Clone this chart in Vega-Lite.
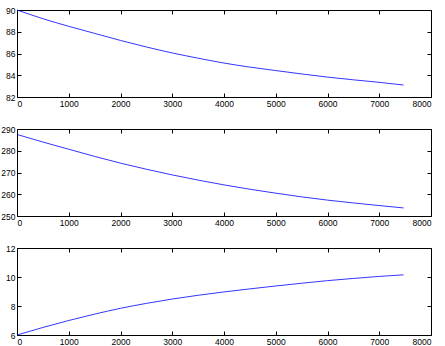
{
  "$schema": "https://vega.github.io/schema/vega-lite/v6.json",
  "padding": {"left": 0, "top": 5, "right": 0, "bottom": 0},
  "background": "white",
  "spacing": 16,
  "config": {
    "view": {"stroke": "black", "strokeWidth": 1},
    "axis": {"grid": false, "domain": false, "tickColor": "black", "tickSize": -4, "labelColor": "black", "labelFont": "Liberation Sans", "labelFontSize": 8.5, "title": null, "labelPadding": 6, "format": "d"}
  },
  "datasets": {
    "p1": [
      {"t": 0, "v": 90}, {"t": 500, "v": 89.2}, {"t": 1000, "v": 88.5}, {"t": 1500, "v": 87.85},
      {"t": 2000, "v": 87.2}, {"t": 2500, "v": 86.6}, {"t": 3000, "v": 86.05}, {"t": 3500, "v": 85.57},
      {"t": 4000, "v": 85.12}, {"t": 4500, "v": 84.75}, {"t": 5000, "v": 84.43}, {"t": 5500, "v": 84.12},
      {"t": 6000, "v": 83.83}, {"t": 6500, "v": 83.58}, {"t": 7000, "v": 83.35}, {"t": 7470, "v": 83.1}
    ],
    "p2": [
      {"t": 0, "v": 287.5}, {"t": 500, "v": 284.0}, {"t": 1000, "v": 280.7}, {"t": 1500, "v": 277.4},
      {"t": 2000, "v": 274.3}, {"t": 2500, "v": 271.5}, {"t": 3000, "v": 268.9}, {"t": 3500, "v": 266.5},
      {"t": 4000, "v": 264.3}, {"t": 4500, "v": 262.3}, {"t": 5000, "v": 260.5}, {"t": 5500, "v": 258.8},
      {"t": 6000, "v": 257.3}, {"t": 6500, "v": 256.0}, {"t": 7000, "v": 254.8}, {"t": 7470, "v": 253.7}
    ],
    "p3": [
      {"t": 0, "v": 6.0}, {"t": 500, "v": 6.52}, {"t": 1000, "v": 7.0}, {"t": 1500, "v": 7.44},
      {"t": 2000, "v": 7.84}, {"t": 2500, "v": 8.18}, {"t": 3000, "v": 8.48}, {"t": 3500, "v": 8.74},
      {"t": 4000, "v": 8.97}, {"t": 4500, "v": 9.18}, {"t": 5000, "v": 9.38}, {"t": 5500, "v": 9.57},
      {"t": 6000, "v": 9.75}, {"t": 6500, "v": 9.9}, {"t": 7000, "v": 10.04}, {"t": 7470, "v": 10.15}
    ]
  },
  "vconcat": [
    {
      "width": 414, "height": 87,
      "data": {"name": "p1"},
      "resolve": {"axis": {"x": "independent", "y": "independent"}},
      "layer": [
        {
          "mark": {"type": "line", "color": "#0000ff", "strokeWidth": 0.8, "interpolate": "monotone"},
          "encoding": {
            "x": {"field": "t", "type": "quantitative", "scale": {"domain": [0, 8000], "nice": false}, "axis": {"values": [0,1000,2000,3000,4000,5000,6000,7000,8000], "orient": "bottom"}},
            "y": {"field": "v", "type": "quantitative", "scale": {"domain": [82, 90], "nice": false, "zero": false}, "axis": {"values": [82,84,86,88,90], "orient": "left"}}
          }
        },
        {
          "mark": {"type": "line", "opacity": 0},
          "encoding": {
            "x": {"field": "t", "type": "quantitative", "axis": {"values": [0,1000,2000,3000,4000,5000,6000,7000,8000], "orient": "top", "labels": false}},
            "y": {"field": "v", "type": "quantitative", "axis": {"values": [82,84,86,88,90], "orient": "right", "labels": false}}
          }
        }
      ]
    },
    {
      "width": 414, "height": 87,
      "data": {"name": "p2"},
      "resolve": {"axis": {"x": "independent", "y": "independent"}},
      "layer": [
        {
          "mark": {"type": "line", "color": "#0000ff", "strokeWidth": 0.8, "interpolate": "monotone"},
          "encoding": {
            "x": {"field": "t", "type": "quantitative", "scale": {"domain": [0, 8000], "nice": false}, "axis": {"values": [0,1000,2000,3000,4000,5000,6000,7000,8000], "orient": "bottom"}},
            "y": {"field": "v", "type": "quantitative", "scale": {"domain": [250, 290], "nice": false, "zero": false}, "axis": {"values": [250,260,270,280,290], "orient": "left"}}
          }
        },
        {
          "mark": {"type": "line", "opacity": 0},
          "encoding": {
            "x": {"field": "t", "type": "quantitative", "axis": {"values": [0,1000,2000,3000,4000,5000,6000,7000,8000], "orient": "top", "labels": false}},
            "y": {"field": "v", "type": "quantitative", "axis": {"values": [250,260,270,280,290], "orient": "right", "labels": false}}
          }
        }
      ]
    },
    {
      "width": 414, "height": 87,
      "data": {"name": "p3"},
      "resolve": {"axis": {"x": "independent", "y": "independent"}},
      "layer": [
        {
          "mark": {"type": "line", "color": "#0000ff", "strokeWidth": 0.8, "interpolate": "monotone"},
          "encoding": {
            "x": {"field": "t", "type": "quantitative", "scale": {"domain": [0, 8000], "nice": false}, "axis": {"values": [0,1000,2000,3000,4000,5000,6000,7000,8000], "orient": "bottom"}},
            "y": {"field": "v", "type": "quantitative", "scale": {"domain": [6, 12], "nice": false, "zero": false}, "axis": {"values": [6,8,10,12], "orient": "left"}}
          }
        },
        {
          "mark": {"type": "line", "opacity": 0},
          "encoding": {
            "x": {"field": "t", "type": "quantitative", "axis": {"values": [0,1000,2000,3000,4000,5000,6000,7000,8000], "orient": "top", "labels": false}},
            "y": {"field": "v", "type": "quantitative", "axis": {"values": [6,8,10,12], "orient": "right", "labels": false}}
          }
        }
      ]
    }
  ]
}
